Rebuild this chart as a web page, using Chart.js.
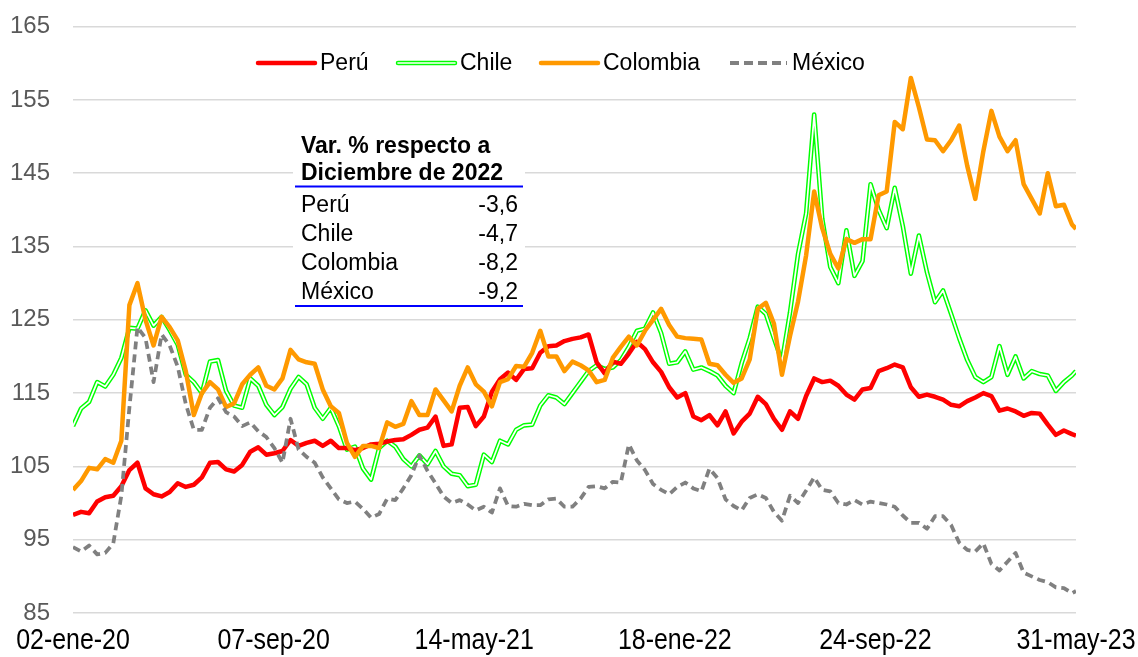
<!DOCTYPE html>
<html>
<head>
<meta charset="utf-8">
<script src="https://cdn.jsdelivr.net/npm/chart.js@4.4.1/dist/chart.umd.min.js"></script>
<style>
  html, body { margin: 0; padding: 0; background: #ffffff; }
  #wrap { width: 1138px; height: 657px; }
</style>
</head>
<body>
<div id="wrap"><canvas id="grafico" width="1138" height="657"></canvas></div>
<script>
// dias desde el 02-ene-20 (cada 10 dias, ultimo punto 31-may-23)
const dias = [];
for (let d = 0; d <= 1240; d += 10) dias.push(d);
dias.push(1245);

const etiquetasX = ['02-ene-20', '07-sep-20', '14-may-21', '18-ene-22', '24-sep-22', '31-may-23'];

const peru = [
  98.4, 98.8, 98.6, 100.2, 100.8, 101, 102.3, 104.5, 105.5, 102,
  101.2, 100.9, 101.5, 102.7, 102.2, 102.5, 103.5, 105.5, 105.6, 104.6,
  104.3, 105.2, 107, 107.6, 106.6, 106.8, 107.1, 108.6, 107.8, 108.2,
  108.5, 107.8, 108.5, 107.5, 107.5, 107.2, 107.5, 108, 108.1, 108.4,
  108.6, 108.7, 109.3, 110, 110.3, 111.8, 107.8, 108, 113, 113.1,
  110.5, 111.8, 115.2, 116.9, 117.8, 116.8, 118.3, 118.4, 120.5, 121.4,
  121.5, 122.1, 122.4, 122.6, 123, 119.2, 117.7, 119.3, 119, 120.4,
  122, 121, 119.2, 117.9, 115.8, 114.4, 115, 111.8, 111.3, 112,
  110.6, 112.5, 109.5, 111.1, 112.2, 114.5, 113.5, 111.5, 110, 112.5,
  111.5, 114.6, 117, 116.5, 116.7, 116, 114.8, 114.1, 115.5, 115.7,
  118, 118.4, 118.9, 118.5, 115.8, 114.5, 114.8, 114.5, 114.1, 113.4,
  113.2, 113.9, 114.4, 115, 114.6, 112.6, 112.9, 112.5, 111.9, 112.3,
  112.2, 110.7, 109.3, 109.9, 109.4, 109.2
];

const chile = [
  110.5, 112.9, 113.8, 116.5, 115.9, 117.5, 119.8, 123.9, 123.8, 126.3,
  124.2, 125.4, 123.6, 121.6, 117.5, 116.5, 115, 119.3, 119.5, 115.3,
  113.3, 113, 117, 116, 113.4, 112, 113.1, 115.6, 117.2, 116.2,
  113, 111.5, 113, 110.5, 107.3, 107.7, 104.7, 103.2, 107.5, 108.5,
  107.7, 106, 105, 106.5, 105.3, 107.1, 105, 104, 103.8, 102.3,
  102.5, 106.6, 105.6, 108.5, 108, 110, 110.6, 110.7, 113.3, 114.7,
  114.4, 113.5, 115, 116.5, 118, 118.8, 118.3, 118.5, 119.5, 121.3,
  123.5, 123.8, 126, 123.2, 119, 119.2, 120.7, 118.2, 118.5, 118,
  117.4, 116, 115, 119.1, 122.5, 126.8, 125.8, 122.5, 119.3, 126,
  134, 139.5, 153, 138.8, 132.2, 130, 137.2, 131, 133, 143.5,
  140, 137.5, 143, 137.8, 131.3, 136.5, 131.5, 127.4, 129, 125.8,
  122.5, 119.5, 117.2, 116.5, 117.2, 121.4, 117.5, 120, 117, 118,
  117.6, 117.4, 115.3, 116.5, 117.4, 118
];

const colombia = [
  101.8, 103, 104.8, 104.6, 106, 105.5, 108.5, 127, 130, 125,
  121.5, 125.4, 124, 122.2, 118, 112, 115, 116.5, 115.5, 113.1,
  113.6, 116.2, 117.5, 118.5, 116, 115.5, 117, 120.9, 119.6, 119.2,
  119, 115.5, 113.2, 112.3, 108.2, 106.3, 107.8, 107.8, 107.5, 111,
  110.4, 110.8, 113.9, 112, 112, 115.5, 114, 112.5, 116, 118.5,
  116.2, 115.2, 113.2, 116.5, 116.9, 118.7, 118.6, 120.5, 123.5, 120,
  120, 118, 119.3, 118.8, 118.1, 116.5, 116.8, 119.8, 121.3, 122.7,
  121.5, 123.5, 125, 126.5, 124.3, 122.7, 122.5, 122.4, 122.3, 119,
  118.8, 117.5, 116.4, 117, 119.6, 126.5, 127.3, 124.5, 117.5, 122.8,
  127.5, 133.8, 142.5, 137.5, 134, 132, 136, 135.5, 136, 136,
  142, 142.5, 152, 151, 158, 154, 149.6, 149.5, 148, 149.5,
  151.5, 146, 141.5, 148, 153.5, 150, 148, 149.5, 143.5, 141.5,
  139.5, 145, 140.5, 140.7, 138, 137.4
];

const mexico = [
  94, 93.4, 94.2, 93, 93.2, 94.5, 101, 113, 124, 122.5,
  116.5, 123, 121.5, 118.6, 113.5, 110, 110, 113, 114.3, 112.4,
  111.8, 110.5, 111, 109.8, 109, 107.5, 105.5, 111.5, 107.3, 106.3,
  105.5, 103.5, 102, 100.5, 100, 100.2, 99.2, 98, 98.5, 100.6,
  100.4, 102, 103.8, 106.5, 104.4, 102.7, 100.9, 100, 100.4, 99.8,
  99, 99.5, 98.7, 102, 99.6, 99.5, 99.9, 99.7, 99.7, 100.5,
  100.6, 99.5, 99.5, 100.6, 102.2, 102.3, 102, 102.9, 102.8, 108,
  105.8, 104.5, 102.6, 101.8, 101.2, 102.2, 102.8, 102, 101.6, 104.7,
  103.4, 100.5, 99.6, 99, 100.7, 101.2, 100.7, 98.8, 97.6, 101,
  100, 101.7, 103.5, 101.8, 101.6, 100, 99.8, 100.4, 99.8, 100.2,
  100, 99.8, 99.5, 98.3, 97.3, 97.3, 96.5, 98.2, 98.2, 97,
  94.6, 93.6, 93.4, 94.5, 91.7, 90.8, 92, 93.2, 90.5, 90,
  89.5, 89.2, 88.5, 88.4, 87.7, 88
];

// recuadro: variacion % respecto a diciembre de 2022
const tablaPaises = ['Perú', 'Chile', 'Colombia', 'México'];
const tablaVar = ['-3,6', '-4,7', '-8,2', '-9,2'];

const fuente = "'Liberation Sans', Arial, sans-serif";
const puntos = serie => dias.map((d, i) => ({ x: d, y: serie[i] }));

// leyenda dibujada a mano (la linea doble de Chile no existe en la leyenda nativa)
const leyenda = {
  id: 'leyenda',
  afterDraw(chart) {
    const ctx = chart.ctx;
    const y = 63;
    const items = [
      { txt: 'Perú', x: 258, tipo: 'peru' },
      { txt: 'Chile', x: 398, tipo: 'chile' },
      { txt: 'Colombia', x: 541, tipo: 'colombia' },
      { txt: 'México', x: 730, tipo: 'mexico' }
    ];
    ctx.save();
    items.forEach(it => {
      const x0 = it.x, x1 = it.x + 57;
      ctx.beginPath();
      ctx.moveTo(x0, y);
      ctx.lineTo(x1, y);
      ctx.setLineDash([]);
      ctx.lineCap = 'round';
      if (it.tipo === 'peru') { ctx.strokeStyle = '#ff0000'; ctx.lineWidth = 4.5; ctx.stroke(); }
      if (it.tipo === 'colombia') { ctx.strokeStyle = '#ff9900'; ctx.lineWidth = 4.5; ctx.stroke(); }
      if (it.tipo === 'chile') {
        ctx.strokeStyle = '#00ff00'; ctx.lineWidth = 4.5; ctx.stroke();
        ctx.strokeStyle = '#ffffff'; ctx.lineWidth = 1.6; ctx.stroke();
      }
      if (it.tipo === 'mexico') {
        ctx.lineCap = 'butt';
        ctx.setLineDash([9, 5]);
        ctx.strokeStyle = '#808080'; ctx.lineWidth = 4; ctx.stroke();
      }
      ctx.setLineDash([]);
      ctx.fillStyle = '#000000';
      ctx.font = '23px ' + fuente;
      ctx.textAlign = 'left';
      ctx.textBaseline = 'middle';
      ctx.fillText(it.txt, x1 + 5, y + 1);
    });
    ctx.restore();
  }
};

const recuadro = {
  id: 'recuadro',
  afterDraw(chart) {
    const ctx = chart.ctx;
    ctx.save();
    ctx.fillStyle = '#ffffff';
    ctx.fillRect(293, 124, 232, 188);
    ctx.fillStyle = '#000000';
    ctx.textBaseline = 'alphabetic';
    ctx.textAlign = 'left';
    ctx.font = 'bold 23px ' + fuente;
    ctx.fillText('Var. % respecto a', 301, 153);
    ctx.fillText('Diciembre de 2022', 301, 179.5);
    ctx.strokeStyle = '#0000ff';
    ctx.lineWidth = 2;
    ctx.beginPath();
    ctx.moveTo(295, 186.5);
    ctx.lineTo(523, 186.5);
    ctx.stroke();
    ctx.font = '23px ' + fuente;
    const bases = [212, 241, 270, 298.5];
    tablaPaises.forEach((p, i) => {
      ctx.textAlign = 'left';
      ctx.fillText(p, 301, bases[i]);
      ctx.textAlign = 'right';
      ctx.fillText(tablaVar[i], 518, bases[i]);
    });
    ctx.beginPath();
    ctx.moveTo(295, 306);
    ctx.lineTo(523, 306);
    ctx.stroke();
    ctx.restore();
  }
};

// etiquetas del eje x en letra estrecha (no hay Arial Narrow instalada)
const fechasEje = {
  id: 'fechasEje',
  afterDraw(chart) {
    const ctx = chart.ctx;
    const sx = chart.scales.x;
    ctx.save();
    ctx.fillStyle = '#000000';
    ctx.font = '29px ' + fuente;
    ctx.textAlign = 'center';
    ctx.textBaseline = 'alphabetic';
    etiquetasX.forEach((t, i) => {
      const px = sx.getPixelForValue(i * 249);
      ctx.save();
      ctx.translate(px, 649);
      ctx.scale(0.86, 1);
      ctx.fillText(t, 0, 0);
      ctx.restore();
    });
    ctx.restore();
  }
};

const ctx = document.getElementById('grafico').getContext('2d');
const grafico = new Chart(ctx, {
  type: 'line',
  data: {
    datasets: [
      {
        label: 'México',
        data: puntos(mexico),
        borderColor: '#808080',
        borderWidth: 3.75,
        borderDash: [8, 5],
        order: 0
      },
      {
        label: 'Colombia',
        data: puntos(colombia),
        borderColor: '#ff9900',
        borderWidth: 4.5,
        order: 1
      },
      {
        label: 'Perú',
        data: puntos(peru),
        borderColor: '#ff0000',
        borderWidth: 4.5,
        order: 2
      },
      {
        label: 'Chile',
        data: puntos(chile),
        borderColor: '#ffffff',
        borderWidth: 1.7,
        order: 3
      },
      {
        label: 'Chile borde',
        data: puntos(chile),
        borderColor: '#00ff00',
        borderWidth: 4.6,
        order: 4
      }
    ]
  },
  options: {
    responsive: false,
    animation: false,
    devicePixelRatio: 1,
    elements: {
      point: { radius: 0 },
      line: { tension: 0, borderJoinStyle: 'round' }
    },
    layout: { padding: { left: 0, right: 62, top: 26.6, bottom: 0 } },
    plugins: {
      legend: { display: false },
      tooltip: { enabled: false }
    },
    scales: {
      x: {
        type: 'linear',
        min: 0,
        max: 1245,
        grid: { display: false },
        border: { display: false },
        afterBuildTicks: scale => {
          scale.ticks = etiquetasX.map((t, i) => ({ value: i * 249 }));
        },
        afterFit: scale => {
          scale.height = 44;
          scale.paddingLeft = 0;
          scale.paddingRight = 0;
        },
        ticks: { display: false }
      },
      y: {
        min: 85,
        max: 165,
        grid: { color: '#d9d9d9', lineWidth: 1.5, drawTicks: false },
        border: { display: false },
        afterFit: scale => {
          scale.width = 73;
          scale.paddingTop = 0;
          scale.paddingBottom = 0;
        },
        ticks: {
          stepSize: 10,
          padding: 23,
          color: '#595959',
          font: { family: fuente, size: 24 }
        }
      }
    }
  },
  plugins: [leyenda, recuadro, fechasEje]
});
</script>
</body>
</html>
